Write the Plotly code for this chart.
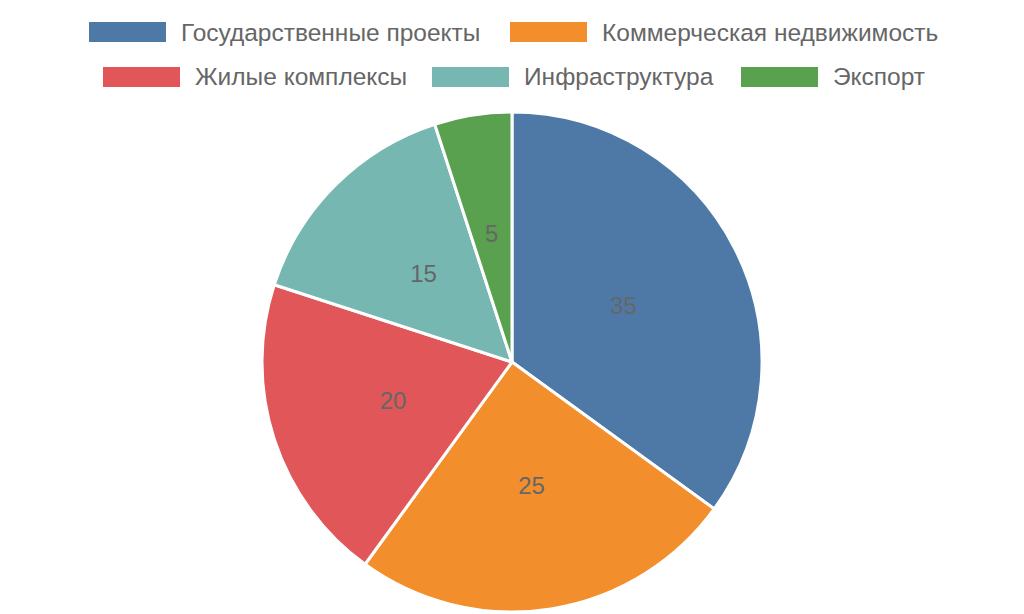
import plotly.graph_objects as go

labels = ["Государственные проекты", "Коммерческая недвижимость", "Жилые комплексы",
          "Инфраструктура", "Экспорт"]
values = [35, 25, 20, 15, 5]
colors = ["#4E79A7", "#F28E2B", "#E15759", "#76B7B2", "#59A14F"]

W, H = 1024, 614
OFF = 8  # the page body adds an 8px margin, so pull everything back by that
TOP, BOTTOM = 104, 10

def px_x(x):
    return (x - OFF) / W

def px_y(y):
    return (H - BOTTOM - (y - OFF)) / (H - TOP - BOTTOM)

pie_dom_x = [0, (2 * (512 - OFF)) / W]

fig = go.Figure()

# main pie, no text
fig.add_trace(go.Pie(
    labels=labels,
    values=values,
    sort=False,
    direction="clockwise",
    rotation=0,
    marker=dict(colors=colors, line=dict(color="white", width=3)),
    textinfo="none",
    hoverinfo="label+value",
    domain=dict(x=pie_dom_x, y=[0, 1]),
    showlegend=False,
))

# transparent ring on top so the values sit at half the radius
fig.add_trace(go.Pie(
    labels=labels,
    values=values,
    sort=False,
    direction="clockwise",
    rotation=0,
    hole=0.667,
    marker=dict(colors=["rgba(0,0,0,0)"] * len(values), line=dict(width=0)),
    textinfo="value",
    textposition="inside",
    insidetextorientation="horizontal",
    textfont=dict(color="#666666", size=24),
    hoverinfo="skip",
    domain=dict(x=pie_dom_x, y=[0.2, 0.8]),
    showlegend=False,
))

# legend drawn by hand, chart.js style (wide boxes, centred rows)
rows = [[0, 1], [2, 3, 4]]
row_y = [32, 77]
box_left = [89, 510, 103, 432, 741]
shapes = []
annotations = []
for r, idxs in enumerate(rows):
    for i in idxs:
        x0 = box_left[i]
        shapes.append(dict(
            type="rect", xref="paper", yref="paper",
            x0=px_x(x0), x1=px_x(x0 + 77),
            y0=px_y(row_y[r] + 10), y1=px_y(row_y[r] - 10),
            fillcolor=colors[i], line=dict(width=0),
        ))
        annotations.append(dict(
            xref="paper", yref="paper",
            x=px_x(x0 + 90), y=px_y(row_y[r]),
            xanchor="left", yanchor="middle",
            text=labels[i], showarrow=False,
            font=dict(size=24.5, color="#666666"),
        ))

fig.update_layout(
    width=W,
    height=H,
    margin=dict(l=0, r=0, t=TOP, b=BOTTOM),
    paper_bgcolor="white",
    font=dict(family="Liberation Sans, Arial, sans-serif", color="#666666", size=24),
    showlegend=False,
    shapes=shapes,
    annotations=annotations,
)

fig.write_html("out.html")
